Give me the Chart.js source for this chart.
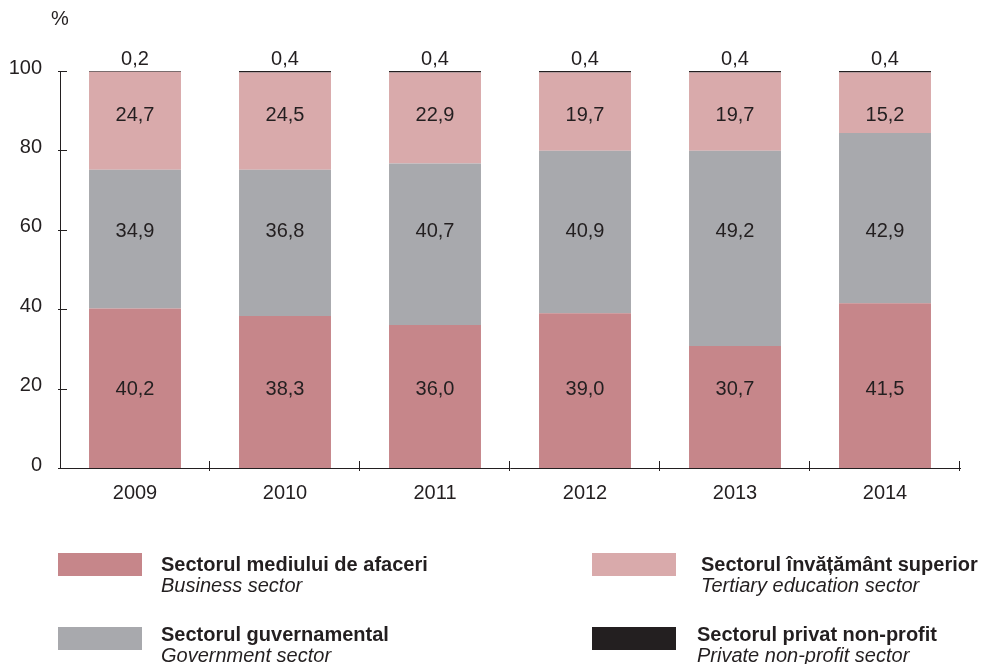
<!DOCTYPE html>
<html>
<head>
<meta charset="utf-8">
<script src="https://cdn.jsdelivr.net/npm/chart.js@4"></script>
<style>
  body { margin: 0; background: #fff; font-family: "Liberation Sans", Arial, sans-serif; color: #231f20; }
  #wrap { position: relative; width: 983px; height: 664px; }
  #pct { position: absolute; left: 51px; top: 7px; font-size: 20px; }
  .sw { position: absolute; width: 84px; height: 23px; }
  .txt { position: absolute; font-size: 20px; line-height: 21px; white-space: nowrap; }
  .txt b { display: block; }
  .txt i { display: block; }
</style>
</head>
<body>
<div id="wrap">
  <canvas id="chart" width="983" height="664"></canvas>
  <div id="pct">%</div>
  <div id="legend"></div>
</div>
<script>
// Data (values in %)
const years = ['2009', '2010', '2011', '2012', '2013', '2014'];
const business = [40.2, 38.3, 36.0, 39.0, 30.7, 41.5];
const government = [34.9, 36.8, 40.7, 40.9, 49.2, 42.9];
const tertiary = [24.7, 24.5, 22.9, 19.7, 19.7, 15.2];
const privateNp = [0.2, 0.4, 0.4, 0.4, 0.4, 0.4];
const yTicks = [0, 20, 40, 60, 80, 100];

const seriesNames = [
  ['Sectorul mediului de afaceri', 'Business sector'],
  ['Sectorul guvernamental', 'Government sector'],
  ['Sectorul învățământ superior', 'Tertiary education sector'],
  ['Sectorul privat non-profit', 'Private non-profit sector']
];
const colors = ['#c6868a', '#a8a9ad', '#d9aaab', '#231f20'];

// value labels sit at fixed heights in the source; the last series goes above the bar
const labelLevel = [19.8, 59.6, 88.9];
const fmt = v => v.toFixed(1).replace('.', ',');
const FONT = '"Liberation Sans", Arial, sans-serif';

const labelsPlugin = {
  id: 'valueLabels',
  afterDatasetsDraw(chart) {
    const ctx = chart.ctx;
    const y = chart.scales.y;
    ctx.save();
    ctx.font = '20px ' + FONT;
    ctx.fillStyle = '#231f20';
    ctx.textAlign = 'center';
    ctx.textBaseline = 'middle';
    chart.data.datasets.forEach((ds, di) => {
      const meta = chart.getDatasetMeta(di);
      meta.data.forEach((bar, i) => {
        const py = di < 3 ? y.getPixelForValue(labelLevel[di]) : bar.y - 12;
        ctx.fillText(fmt(ds.data[i]), bar.x, py);
      });
    });
    ctx.restore();
  }
};

// short ticks drawn inside the plot, like the original
const ticksPlugin = {
  id: 'innerTicks',
  afterDraw(chart) {
    const ctx = chart.ctx;
    const x = chart.scales.x, y = chart.scales.y;
    const area = chart.chartArea;
    ctx.save();
    ctx.strokeStyle = '#231f20';
    ctx.lineWidth = 1;
    ctx.beginPath();
    yTicks.forEach(v => {
      const py = Math.round(y.getPixelForValue(v)) + 0.5;
      ctx.moveTo(area.left - 2, py);
      ctx.lineTo(area.left + 7, py);
    });
    for (let i = 0; i < years.length; i++) {
      const next = i < years.length - 1 ? x.getPixelForValue(i + 1) : 2 * x.getPixelForValue(i) - x.getPixelForValue(i - 1);
      const px = Math.round((x.getPixelForValue(i) + next) / 2) - 0.5;
      ctx.moveTo(px, area.bottom + 3);
      ctx.lineTo(px, area.bottom - 7);
    }
    ctx.stroke();
    ctx.restore();
  }
};

const series = [business, government, tertiary, privateNp];

new Chart(document.getElementById('chart'), {
  type: 'bar',
  data: {
    labels: years,
    datasets: series.map((d, i) => ({
      label: seriesNames[i][0],
      data: d,
      backgroundColor: colors[i],
      borderWidth: 0,
      categoryPercentage: 1,
      barPercentage: 0.613
    }))
  },
  options: {
    responsive: false,
    animation: false,
    layout: { padding: { top: 71, right: 23, left: 0, bottom: 0 } },
    plugins: { legend: { display: false }, tooltip: { enabled: false } },
    scales: {
      x: {
        stacked: true,
        grid: { display: false, drawTicks: false },
        border: { display: true, color: '#231f20', width: 1 },
        ticks: {
          color: '#231f20',
          font: { family: FONT, size: 20 },
          padding: 13
        },
        afterFit(s) { s.height = 196; }
      },
      y: {
        stacked: true,
        min: 0,
        max: 100,
        afterBuildTicks(s) { s.ticks = yTicks.map(v => ({ value: v })); },
        grid: { display: false, drawTicks: false },
        border: { display: true, color: '#231f20', width: 1 },
        ticks: {
          color: '#231f20',
          font: { family: FONT, size: 20 },
          padding: 18,
          labelOffset: -3
        },
        afterFit(s) { s.width = 60; }
      }
    }
  },
  plugins: [labelsPlugin, ticksPlugin]
});

// legend as HTML, two columns: [swatch x, swatch y, text x, text top]
const legendPos = [[58, 553, 161, 554], [58, 627, 161, 624], [592, 553, 701, 554], [592, 627, 697, 624]];
const legend = document.getElementById('legend');
seriesNames.forEach((n, i) => {
  const [lx, ly, tx, ty] = legendPos[i];
  const sw = document.createElement('div');
  sw.className = 'sw';
  sw.style.left = lx + 'px';
  sw.style.top = ly + 'px';
  sw.style.background = colors[i];
  legend.appendChild(sw);
  const t = document.createElement('div');
  t.className = 'txt';
  t.style.left = tx + 'px';
  t.style.top = ty + 'px';
  t.innerHTML = '<b>' + n[0] + '</b><i>' + n[1] + '</i>';
  legend.appendChild(t);
});
</script>
</body>
</html>
